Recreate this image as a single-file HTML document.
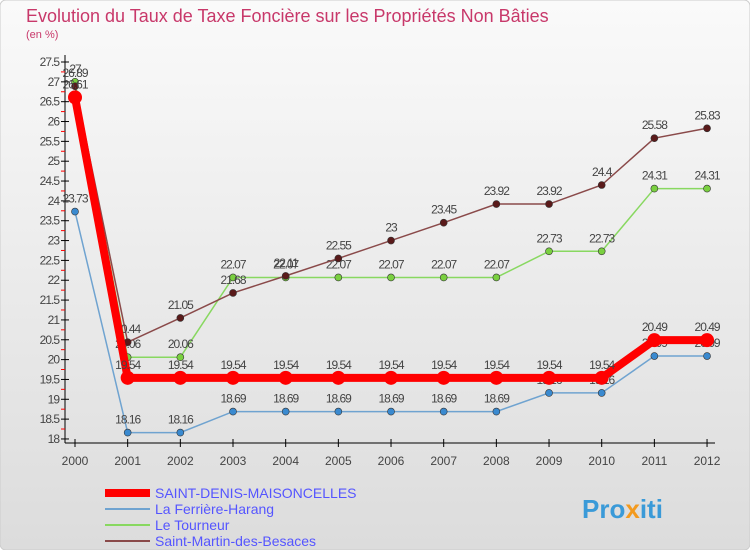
<!DOCTYPE html>
<html><head><meta charset="utf-8"><style>
body{margin:0;width:750px;height:550px;overflow:hidden;font-family:"Liberation Sans",sans-serif}
</style></head><body>
<svg id="c" width="750" height="550" xmlns="http://www.w3.org/2000/svg">
<defs><linearGradient id="bg" x1="0" y1="0" x2="0" y2="1"><stop offset="0" stop-color="#fafafa"/><stop offset="1" stop-color="#dcdcdc"/></linearGradient></defs>
<rect width="750" height="550" fill="url(#bg)" rx="6" stroke="#ccc"/>
<text x="26" y="22" font-size="18" fill="#c8386a">Evolution du Taux de Taxe Foncière sur les Propriétés Non Bâties</text>
<text x="26" y="38" font-size="11" fill="#c8386a">(en %)</text>
<g id="axes"></g><g id="series"></g>
<g>
<line x1="105" y1="493" x2="150" y2="493" stroke="#f00" stroke-width="8"/>
<text x="155" y="498" font-size="14" fill="#55f">SAINT-DENIS-MAISONCELLES</text>
<line x1="105" y1="509" x2="150" y2="509" stroke="#6fa3d0" stroke-width="2"/>
<text x="155" y="514" font-size="14" fill="#55f">La Ferrière-Harang</text>
<line x1="105" y1="525" x2="150" y2="525" stroke="#88d860" stroke-width="2"/>
<text x="155" y="530" font-size="14" fill="#55f">Le Tourneur</text>
<line x1="105" y1="541" x2="150" y2="541" stroke="#8a4a4a" stroke-width="2"/>
<text x="155" y="546" font-size="14" fill="#55f">Saint-Martin-des-Besaces</text>
</g>
<text x="582" y="518" font-size="26" font-weight="bold" fill="#3a9ad8">Pro<tspan fill="#f39a1e">x</tspan>iti</text>
</svg>
<script>
const years=[2000,2001,2002,2003,2004,2005,2006,2007,2008,2009,2010,2011,2012];
const sdm=[26.61,19.54,19.54,19.54,19.54,19.54,19.54,19.54,19.54,19.54,19.54,20.49,20.49];
const ferriere=[23.73,18.16,18.16,18.69,18.69,18.69,18.69,18.69,18.69,19.16,19.16,20.09,20.09];
const tourneur=[27,20.06,20.06,22.07,22.07,22.07,22.07,22.07,22.07,22.73,22.73,24.31,24.31];
const stmartin=[26.89,20.44,21.05,21.68,22.11,22.55,23,23.45,23.92,23.92,24.4,25.58,25.83];
const yTicks=[18,18.5,19,19.5,20,20.5,21,21.5,22,22.5,23,23.5,24,24.5,25,25.5,26,26.5,27,27.5];
const NS='http://www.w3.org/2000/svg';
const X=i=>75+i*52.67, Y=v=>62+(27.5-v)*39.68;
function mk(t,a,p){const e=document.createElementNS(NS,t);for(const k in a)e.setAttribute(k,a[k]);p.appendChild(e);return e;}
const ax=document.getElementById('axes'), sg=document.getElementById('series');
const ya=mk('line',{x1:65,y1:55,x2:65,y2:443,stroke:'#000'},ax);


const xa=mk('line',{x1:65,y1:443,x2:715,y2:443,stroke:'#000'},ax);


yTicks.forEach((v,k)=>{
 mk('line',{x1:61,y1:Y(v),x2:69,y2:Y(v),stroke:'#000'},ax);
 if(k>0) mk('line',{x1:61,y1:Y(v)+9.9,x2:65,y2:Y(v)+9.9,stroke:'#f00'},ax);
 const t=mk('text',{x:59,y:Y(v)+4,'font-size':12,'text-anchor':'end',fill:'#444','letter-spacing':'-1'},ax);t.textContent=String(v);
 
 
});
years.forEach((y,i)=>{
 mk('line',{x1:X(i),y1:439,x2:X(i),y2:447,stroke:'#000'},ax);
 const t=mk('text',{x:X(i),y:465,'font-size':12,'text-anchor':'middle',fill:'#444'},ax);t.textContent=y;
 
 
});
function series(d,col,mc,w,r,name){
 const g=mk('g',{},sg);
 
 
 mk('polyline',{points:d.map((v,i)=>X(i)+','+Y(v)).join(' '),fill:'none',stroke:col,'stroke-width':w},g);
 d.forEach((v,i)=>{
  const c=mk('circle',{cx:X(i),cy:Y(v),r:r,fill:mc,stroke:'#333','stroke-width':r>5?0:0.6},g);
  
  
  const t=mk('text',{x:X(i),y:Y(v)-9,'font-size':12,'text-anchor':'middle',fill:'#444','letter-spacing':'-1'},g);t.textContent=String(v);
 });
}
series(ferriere,'#6fa3d0','#3a8ad0',1.5,3.5,'series-ferriere');
series(tourneur,'#88d860','#7ad040',1.5,3.5,'series-tourneur');
series(stmartin,'#8a4a4a','#5a1a1a',1.5,3.5,'series-saint-martin');
series(sdm,'#f00','#f00',8,7,'series-saint-denis');
</script>
</body></html>
